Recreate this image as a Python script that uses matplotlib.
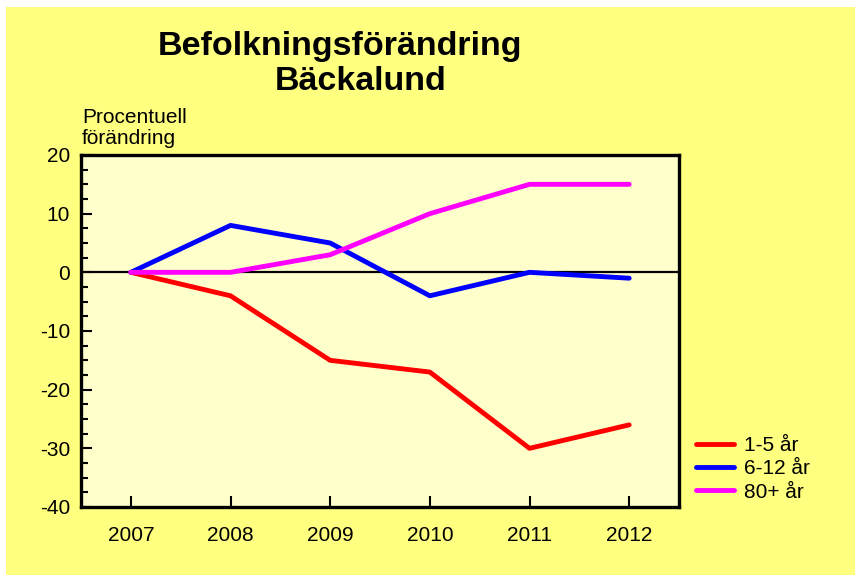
import matplotlib.pyplot as plt
from matplotlib.patches import Rectangle
from matplotlib.ticker import MultipleLocator

# Data
years = ["2007", "2008", "2009", "2010", "2011", "2012"]
barn_1_5 = [0, -4, -15, -17, -30, -26]
barn_6_12 = [0, 8, 5, -4, 0, -1]
aldre_80 = [0, 0, 3, 10, 15, 15]
series_labels = ["1-5 år", "6-12 år", "80+ år"]
series_colors = ["#FF0000", "#0000FF", "#FF00FF"]

plt.rcParams['font.family'] = ['Liberation Sans', 'DejaVu Sans']
plt.rcParams['axes.unicode_minus'] = False

W, H = 855, 575
fig = plt.figure(figsize=(W / 100, H / 100), dpi=100, facecolor="white")

# yellow background with a thin white margin top/left
fig.patches.append(Rectangle((6 / W, 0), 1 - 6 / W, 1 - 7 / H,
                             transform=fig.transFigure, facecolor="#FFFF80",
                             edgecolor="none", zorder=-10))

ax = fig.add_axes([81 / W, 1 - 507 / H, (679 - 81) / W, (507 - 155) / H])
ax.set_facecolor("#FFFFCC")

x = range(len(years))
for vals, lab, col in zip([barn_1_5, barn_6_12, aldre_80], series_labels, series_colors):
    ax.plot(x, vals, color=col, lw=3.5, label=lab, solid_capstyle="round", zorder=3)

ax.axhline(0, color="black", lw=1.6, zorder=2)

ax.set_xlim(-0.5, len(years) - 0.5)
ax.set_ylim(-40, 20)
ax.set_xticks(list(x))
ax.set_xticklabels(years)
ax.yaxis.set_major_locator(MultipleLocator(10))
ax.yaxis.set_minor_locator(MultipleLocator(2.5))
ax.tick_params(axis="both", which="major", direction="in", length=8, width=1.5,
               labelsize=15, pad=14)
ax.tick_params(axis="y", which="major", pad=8)
ax.tick_params(axis="y", which="minor", direction="in", length=5, width=1.5)
ax.tick_params(top=False, right=False)
for s in ax.spines.values():
    s.set_linewidth(2.4)

fig.text(340 / W, 1 - 47 / H, "Befolkningsförändring", ha="center", va="center",
         fontsize=24.5, fontweight="bold")
fig.text(361 / W, 1 - 82 / H, "Bäckalund", ha="center", va="center",
         fontsize=24.5, fontweight="bold")
fig.text(82 / W, 1 - 128 / H, "Procentuell\nförändring", ha="left", va="center",
         fontsize=15, linespacing=1.15)

fig.legend(loc="upper left", bbox_to_anchor=(688 / W, 1 - 428 / H), frameon=False,
           fontsize=15, handlelength=1.8, handletextpad=0.5, labelspacing=0.2,
           borderaxespad=0)

fig.savefig("out.png", dpi=100, facecolor="white")
